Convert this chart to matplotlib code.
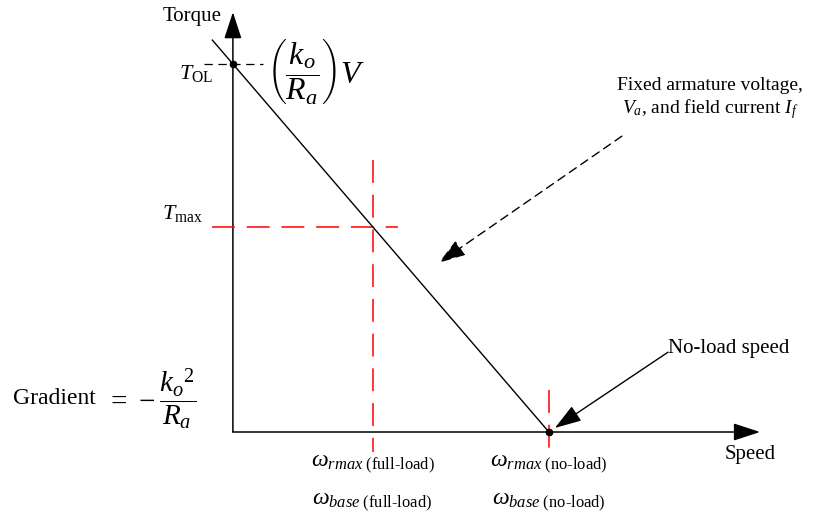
import matplotlib.pyplot as plt
from matplotlib.patches import FancyArrowPatch

# Kennlinie des fremderregten Gleichstrommotors (normiert)
speed_line = [-0.065, 1.0]
torque_line = [1.065, 0.0]

t_ol = 1.0            # Anlaufmoment
w_noload = 1.0        # Leerlaufdrehzahl
w_fullload = 0.442    # Drehzahl bei Volllast
t_max = 0.558         # maximales Moment

# Achsenenden
speed_axis_end = 1.668
torque_axis_end = 1.141

plt.rcParams["font.family"] = "Liberation Serif"
plt.rcParams["mathtext.fontset"] = "custom"
plt.rcParams["mathtext.rm"] = "Liberation Serif"
plt.rcParams["mathtext.it"] = "Liberation Serif:italic"
plt.rcParams["mathtext.bf"] = "Liberation Serif:bold"
plt.rcParams["lines.scale_dashes"] = False

fig = plt.figure(figsize=(8.15, 5.18), dpi=100)
ax = fig.add_axes([0, 0, 1, 1])
ax.set_xlim(-0.737, 1.842)
ax.set_ylim(-0.2337, 1.174)
ax.axis("off")

head = "-|>,head_length=1.1,head_width=0.36"

# Achsen mit Pfeilspitzen
ax.add_patch(FancyArrowPatch((0, 0), (speed_axis_end, 0), arrowstyle=head,
                             mutation_scale=15, color="black", lw=1.1,
                             shrinkA=0, shrinkB=0))
ax.add_patch(FancyArrowPatch((0, 0), (0, torque_axis_end), arrowstyle=head,
                             mutation_scale=15, color="black", lw=1.1,
                             shrinkA=0, shrinkB=0))

# Hilfslinien
red_dash = (16.5, 8.5)
ax.plot([-0.066, 0.522], [t_max, t_max], color="red", lw=1.1, dashes=red_dash)
ax.plot([w_fullload, w_fullload], [0.74, -0.054], color="red", lw=1.1, dashes=red_dash)
ax.plot([w_noload, w_noload], [0.114, -0.054], color="red", lw=1.1, dashes=red_dash)
ax.plot([-0.092, 0.095], [t_ol, t_ol], color="black", lw=0.9, dashes=(6, 4))

# Kennlinie
ax.plot(speed_line, torque_line, color="black", lw=1.0)
ax.plot([0, w_noload], [t_ol, 0], "o", color="black", ms=4.5)

# Beschriftungen
ax.text(222 / 815, 1 - 17 / 518, "Torque", transform=ax.transAxes,
        fontsize=15, ha="right", va="center")
ax.text(750 / 815, 1 - 455 / 518, "Speed", transform=ax.transAxes,
        fontsize=15, ha="center", va="center")
ax.annotate(r"$T_{\mathrm{OL}}$", (0, t_ol), xytext=(-20, -9),
            textcoords="offset pixels", fontsize=16, ha="right", va="center")
ax.annotate(r"$T_{\mathrm{max}}$", (0, t_max), xytext=(-30, 13),
            textcoords="offset pixels", fontsize=16, ha="right", va="center")
ax.text(316 / 815, 1 - 72 / 518, r"$\left(\dfrac{k_o}{R_a}\right)V$",
        transform=ax.transAxes, fontsize=23, ha="center", va="center")
ax.text(710 / 815, 1 - 99 / 518,
        "Fixed armature voltage,\n" + r"$V_a$, and field current $I_f$",
        transform=ax.transAxes, fontsize=14, ha="center", va="center",
        linespacing=1.25)
ax.text(668 / 815, 1 - 349 / 518, "No-load speed", transform=ax.transAxes,
        fontsize=15, ha="left", va="center")
ax.text(13 / 815, 1 - 399 / 518, "Gradient", transform=ax.transAxes,
        fontsize=17, ha="left", va="center")
ax.text(106 / 815, 1 - 399 / 518, r"$=\,-\dfrac{k_o{}^{2}}{R_a}$",
        transform=ax.transAxes, fontsize=21, ha="left", va="center")

for w, tag in [(w_fullload, "full"), (w_noload, "no")]:
    ax.annotate(r"$\omega_{rmax\ \mathrm{(" + tag + r"}\text{-}\mathrm{load)}}$",
                (w, 0), xytext=(0, -32), textcoords="offset pixels",
                fontsize=17, ha="center", va="center")
    ax.annotate(r"$\omega_{base\ \mathrm{(" + tag + r"}\text{-}\mathrm{load)}}$",
                (w, 0), xytext=(0, -70), textcoords="offset pixels",
                fontsize=17, ha="center", va="center")

# Hinweispfeile
ax.annotate("", xy=(0.652, 0.46), xytext=(1.231, 0.804),
            arrowprops=dict(arrowstyle=head, mutation_scale=15, color="black",
                            lw=1.0, linestyle=(0, (6, 4)), shrinkA=0, shrinkB=0))
ax.annotate("", xy=(1.019, 0.011), xytext=(1.377, 0.217),
            arrowprops=dict(arrowstyle=head, mutation_scale=15, color="black",
                            lw=1.0, shrinkA=0, shrinkB=0))

fig.savefig("out.png", dpi=100)
